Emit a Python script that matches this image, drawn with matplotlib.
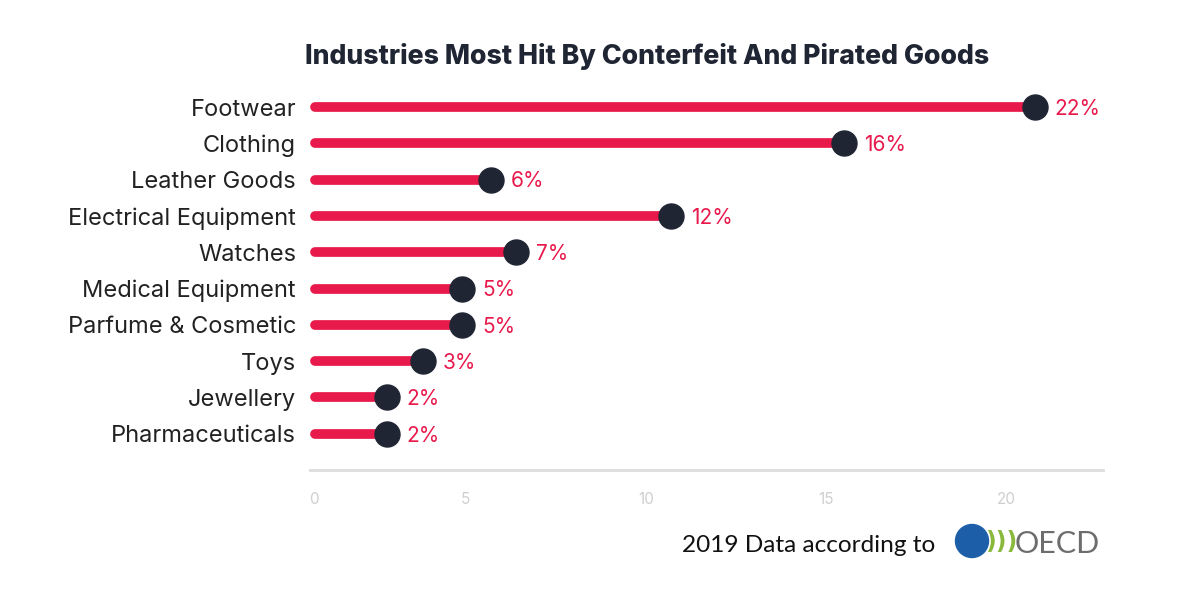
import numpy as np
import matplotlib
matplotlib.use('Agg')
import matplotlib.pyplot as plt
from matplotlib.patches import Circle

# Data (top to bottom as shown)
industries = ['Footwear', 'Clothing', 'Leather Goods', 'Electrical Equipment', 'Watches',
              'Medical Equipment', 'Parfume & Cosmetic', 'Toys', 'Jewellery', 'Pharmaceuticals']
values = [20.8, 15.5, 5.7, 10.7, 6.4, 4.9, 4.9, 3.8, 2.8, 2.8]
labels = ['22%', '16%', '6%', '12%', '7%', '5%', '5%', '3%', '2%', '2%']
tick_vals = [5, 10, 15, 20]

red = '#e8194b'
dark = '#1f2533'
font = 'Inter'

fig = plt.figure(figsize=(12, 6), dpi=100)
ax = fig.add_axes([0.2583, 0.2167, 0.661, 0.655])

n = len(industries)
ypos = np.arange(n)[::-1]   # first item at top
x0 = 0.8

for y, v, lab in zip(ypos, values, labels):
    ax.plot([x0, v], [y, y], color=red, lw=7, solid_capstyle='round', zorder=2)
    ax.plot(v, y, 'o', ms=18, color=dark, zorder=3)
    ax.text(v + 0.55, y - 0.05, lab, color=red, fontsize=15, family=font,
            va='center', ha='left')

ax.set_xlim(0.67, 22.7)
ax.set_ylim(-1.0, n - 1 + 0.83)
ax.set_yticks(ypos)
ax.set_yticklabels(industries, fontsize=17, family=font, color='#222222')
ax.tick_params(axis='y', length=0, pad=10)

ax.set_xticks([0.78] + tick_vals)
ax.set_xticklabels(['0'] + [str(t) for t in tick_vals], fontsize=11, family=font, color='#cfcfcf')
ax.tick_params(axis='x', length=0, pad=16)

for s in ['top', 'right', 'left']:
    ax.spines[s].set_visible(False)
ax.spines['bottom'].set_color('#dddddd')
ax.spines['bottom'].set_linewidth(2)

fig.text(0.539, 0.905, 'Industries Most Hit By Conterfeit And Pirated Goods',
         ha='center', va='center', fontsize=19.2, fontweight='heavy', family=font, color=dark)

# footer
fig.text(0.779, 0.091, '2019 Data according to', ha='right', va='center',
         fontsize=17.6, family='Lato', color='#111111')
globe = Circle((9.72, 0.59), 0.165, transform=fig.dpi_scale_trans, color='#1c5fa8')
fig.patches.append(globe)
fig.text(0.8345, 0.097, ')))', ha='center', va='center', fontsize=17, fontweight='bold',
         family='DejaVu Sans', color='#8ab83c')
fig.text(0.8455, 0.094, 'OECD', ha='left', va='center', fontsize=22,
         family='Lato', color='#6d6d6d')

fig.savefig('out.png', dpi=100, facecolor='white')
